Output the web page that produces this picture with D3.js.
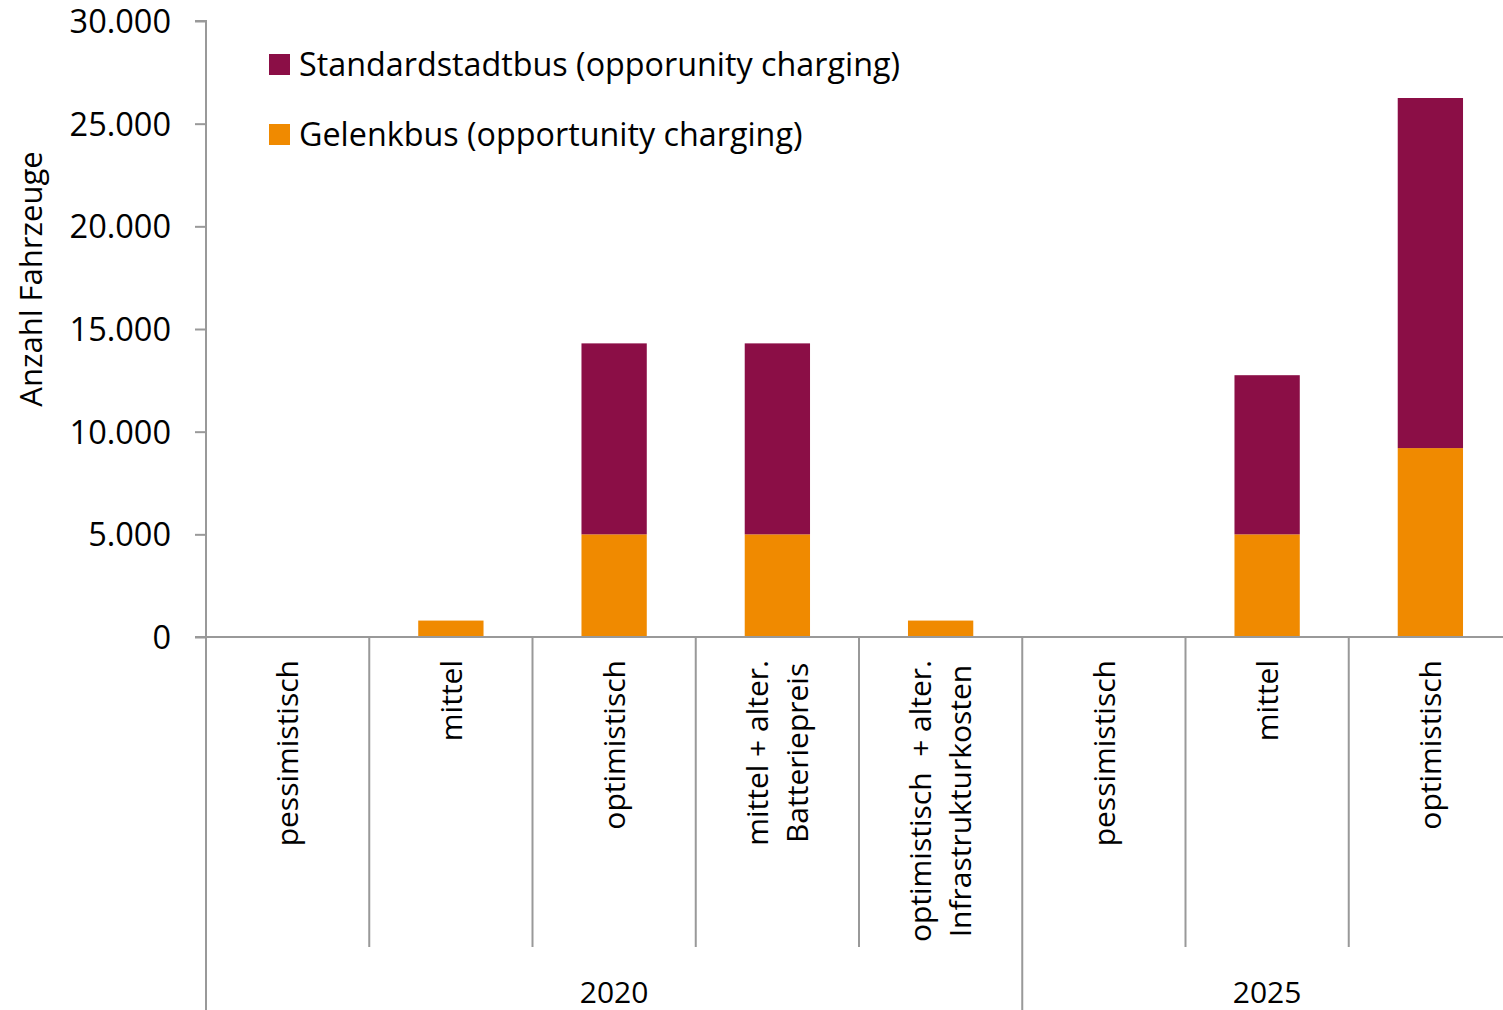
<!DOCTYPE html>
<html>
<head>
<meta charset="utf-8">
<script src="https://cdn.jsdelivr.net/npm/d3@7"></script>
<style>
  body { margin: 0; background: #fff; }
  svg text { font-family: "Open Sans", sans-serif; fill: #000; }
</style>
</head>
<body>
<svg id="chart" width="1503" height="1010"></svg>
<script>
// Kategorien (Szenario, Jahr)
let categories = ["pessimistisch", "mittel", "optimistisch", "mittel + alter.|Batteriepreis",
  "optimistisch  + alter.|Infrastrukturkosten", "pessimistisch", "mittel", "optimistisch"];
let years = ["2020", "2020", "2020", "2020", "2020", "2025", "2025", "2025"];
let yearGroups = ["2020", "2025"];

// Werte
let gelenkbus = [0, 800, 5000, 5000, 800, 0, 5000, 9200];
let standardbus = [0, 0, 9300, 9300, 0, 0, 7750, 17050];

let seriesNames = ["Standardstadtbus (opporunity charging)", "Gelenkbus (opportunity charging)"];
let colors = { gelenk: "#F08A00", standard: "#8B0E46" };

let yTicks = [0, 5000, 10000, 15000, 20000, 25000, 30000];

let svg = d3.select("#chart");
// Plotbereich reicht rechts etwas über den Bildrand hinaus
let plotLeft = 206, plotRight = 1512, viewRight = 1503, plotTop = 21, zeroY = 637;

let x = d3.scaleBand().domain(d3.range(categories.length)).range([plotLeft, plotRight]);
let y = d3.scaleLinear().domain([0, 30000]).range([zeroY, plotTop]);
let barW = x.bandwidth() * 0.4;

let fmt = d => d === 0 ? "0" : d3.format(",")(d).replace(/,/g, ".");

// y-Achse
let yAxis = d3.axisLeft(y).tickValues(yTicks).tickSize(11).tickFormat(fmt);
let ga = svg.append("g").attr("transform", `translate(${plotLeft},0)`).call(yAxis);
ga.select(".domain").attr("stroke", "#999").attr("stroke-width", 2).attr("d", `M-11,${plotTop}H0V${zeroY}`);
ga.selectAll(".tick line").attr("stroke", "#999").attr("stroke-width", 2);
ga.selectAll(".tick text").attr("font-size", 32.5).attr("x", -35).attr("dy", "0.35em")
  .style("font-family", "'Open Sans', sans-serif");

// Balken
let stackData = categories.map((c, i) => ({ i, gelenk: gelenkbus[i], standard: standardbus[i] }));
let stack = d3.stack().keys(["gelenk", "standard"])(stackData);

svg.append("g").selectAll("g").data(stack).enter().append("g")
  .attr("fill", d => colors[d.key])
  .selectAll("rect").data(d => d).enter().append("rect")
  .attr("x", d => x(d.data.i) + (x.bandwidth() - barW) / 2)
  .attr("width", barW)
  .attr("y", d => y(d[1]))
  .attr("height", d => y(d[0]) - y(d[1]));

// Nulllinie und Kategorietrenner
svg.append("line").attr("x1", plotLeft - 11).attr("x2", viewRight).attr("y1", zeroY).attr("y2", zeroY)
  .attr("stroke", "#999").attr("stroke-width", 2);

let bounds = d3.range(categories.length);
svg.append("g").selectAll("line").data(bounds).enter().append("line")
  .attr("x1", i => x(i))
  .attr("x2", i => x(i))
  .attr("y1", zeroY)
  .attr("y2", i => (i === 0 || years[i] !== years[i - 1]) ? 1010 : 947)
  .attr("stroke", "#999").attr("stroke-width", 2);

// Kategorielabels (gedreht)
let labelTop = 660;
categories.forEach((c, i) => {
  let lines = c.split("|");
  let cx = x(i) + x.bandwidth() / 2;
  let lh = 40;
  let g = svg.append("g");
  let texts = lines.map((l, k) => g.append("text")
    .attr("font-size", 30)
    .attr("text-anchor", "middle")
    .attr("dy", "0.36em")
    .attr("xml:space", "preserve")
    .text(l));
  let maxLen = d3.max(texts, t => t.node().getComputedTextLength());
  let cy = labelTop + maxLen / 2;
  texts.forEach((t, k) => {
    let lx = cx + (k - (lines.length - 1) / 2) * lh;
    t.attr("transform", `translate(${lx},${cy}) rotate(-90)`);
  });
});

// Jahreslabels
yearGroups.forEach(yr => {
  let idx = years.map((v, i) => v === yr ? i : -1).filter(i => i >= 0);
  let x0 = x(idx[0]), x1 = x(idx[idx.length - 1]) + x.bandwidth();
  svg.append("text").attr("x", (x0 + x1) / 2).attr("y", 1003)
    .attr("text-anchor", "middle").attr("font-size", 30).text(yr);
});

// Achsentitel
svg.append("text").attr("transform", "translate(42,279) rotate(-90)")
  .attr("text-anchor", "middle").attr("font-size", 31).text("Anzahl Fahrzeuge");

// Legende
let legend = [
  { name: seriesNames[0], color: colors.standard },
  { name: seriesNames[1], color: colors.gelenk }
];
let lg = svg.append("g").selectAll("g").data(legend).enter().append("g")
  .attr("transform", (d, i) => `translate(269,${54 + i * 70})`);
lg.append("rect").attr("width", 21).attr("height", 21).attr("fill", d => d.color);
lg.append("text").attr("x", 30).attr("y", 10.5).attr("dy", "0.35em").attr("font-size", 32.3).text(d => d.name);
</script>
</body>
</html>
